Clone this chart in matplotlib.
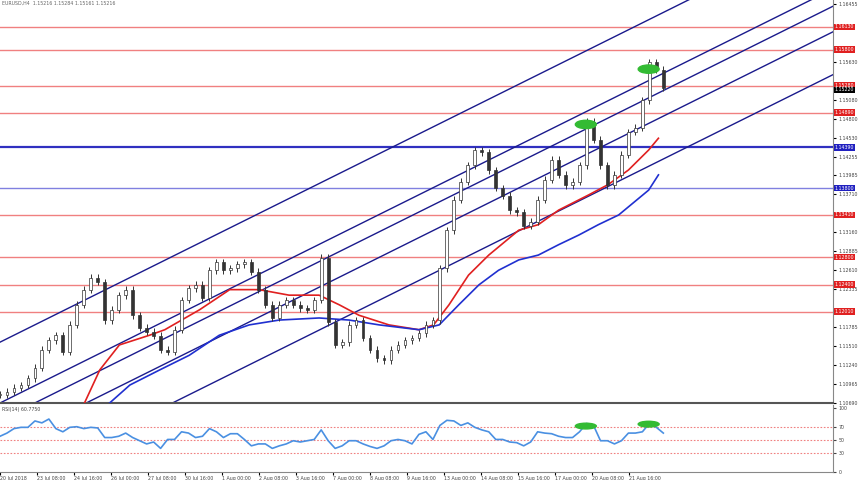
import numpy as np
import matplotlib
matplotlib.use("Agg")
import matplotlib.pyplot as plt
from matplotlib.patches import Ellipse

# closing prices, one per bar
closes = [1.1081, 1.1085, 1.1091, 1.1095, 1.1105, 1.1120, 1.1146, 1.1160, 1.1167, 1.1143,
          1.1182, 1.1211, 1.1233, 1.1250, 1.1244, 1.1189, 1.1204, 1.1225, 1.1233, 1.1196,
          1.1178, 1.1172, 1.1166, 1.1146, 1.1143, 1.1175, 1.1218, 1.1235, 1.1240, 1.1221,
          1.1261, 1.1273, 1.1261, 1.1264, 1.1270, 1.1273, 1.1259, 1.1233, 1.1211, 1.1192,
          1.1211, 1.1218, 1.1211, 1.1206, 1.1204, 1.1218, 1.1279, 1.1186, 1.1153, 1.1157,
          1.1182, 1.1189, 1.1163, 1.1146, 1.1134, 1.1131, 1.1146, 1.1153, 1.1160, 1.1163,
          1.1170, 1.1182, 1.1189, 1.1264, 1.1319, 1.1363, 1.1389, 1.1413, 1.1435, 1.1432,
          1.1406, 1.1380, 1.1369, 1.1348, 1.1345, 1.1325, 1.1331, 1.1363, 1.1392, 1.1421,
          1.1399, 1.1384, 1.1389, 1.1413, 1.1476, 1.1450, 1.1413, 1.1384, 1.1399, 1.1428,
          1.1461, 1.1467, 1.1507, 1.1562, 1.1551, 1.1525]

rsi = [56, 61, 68, 70, 70, 80, 77, 83, 68, 63, 70, 71, 68, 70, 69, 54, 54, 56, 61, 54,
       49, 44, 47, 37, 51, 51, 63, 61, 54, 56, 68, 63, 54, 60, 60, 51, 41, 44, 44, 37,
       41, 44, 49, 47, 49, 51, 66, 49, 37, 41, 49, 49, 44, 40, 37, 41, 49, 51,
       49, 44, 59, 63, 51, 73, 81, 80, 73, 77, 70, 66, 63, 51, 51, 47, 46, 41, 47, 63,
       61, 60, 56, 54, 54, 63, 76, 73, 49, 49, 44, 49, 61, 61, 63, 76, 70, 61]

# moving averages: (bar, price)
ma_red_bar = [12.1, 14.3, 17.1, 21.4, 23.6, 28.6, 32.9, 37.1, 41.4, 45.7, 48.6, 51.4, 55.7,
              60.0, 62.1, 64.3, 67.1, 70.0, 74.3, 77.1, 80.0, 84.3, 87.1, 90.0, 92.9, 94.3]
ma_red = [1.1069, 1.1117, 1.1153, 1.1167, 1.1175, 1.1204, 1.1233, 1.1233, 1.1225, 1.1225,
          1.1211, 1.1196, 1.1182, 1.1175, 1.1182, 1.1211, 1.1254, 1.1283, 1.1319, 1.1327,
          1.1348, 1.1370, 1.1385, 1.1406, 1.1435, 1.1452]
ma_blue_bar = [15.7, 18.6, 22.9, 27.1, 31.4, 35.7, 40.0, 45.7, 50.0, 54.3, 60.0, 62.9, 65.7,
               68.6, 71.4, 74.3, 77.1, 80.0, 82.9, 85.7, 88.6, 92.9, 94.3]
ma_blue = [1.1069, 1.1095, 1.1117, 1.1138, 1.1167, 1.1182, 1.1189, 1.1192, 1.1189, 1.1182,
           1.1175, 1.1182, 1.1211, 1.1240, 1.1261, 1.1276, 1.1283, 1.1298, 1.1312, 1.1327,
           1.1341, 1.1377, 1.1399]

# channel lines: price at bar 0 and at bar 119.3
chan_start = [1.1157, 1.1069, 1.1044, 1.1007, 1.0945]
chan_end = [1.1756, 1.1668, 1.1643, 1.1606, 1.1544]

red_levels = [1.1613, 1.1580, 1.1528, 1.1489, 1.1341, 1.1280, 1.1240, 1.1201]
blue_levels = [1.1439, 1.1380]
last_price = 1.1522

price_ticks = [1.16455, 1.15630, 1.15080, 1.14800, 1.14530, 1.14255, 1.13985, 1.13710,
               1.13160, 1.12885, 1.12610, 1.12335, 1.11785, 1.11510, 1.11240, 1.10965, 1.10690]
date_labels = ["20 Jul 2018", "23 Jul 08:00", "24 Jul 16:00", "26 Jul 00:00", "27 Jul 08:00",
               "30 Jul 16:00", "1 Aug 00:00", "2 Aug 08:00", "3 Aug 16:00", "7 Aug 00:00",
               "8 Aug 08:00", "9 Aug 16:00", "13 Aug 00:00", "14 Aug 08:00", "15 Aug 16:00",
               "17 Aug 00:00", "20 Aug 08:00", "21 Aug 16:00"]

highlights = [(83.9, 1.1472), (92.9, 1.1552)]
rsi_highlights = [(83.9, 72), (92.9, 75)]

XMAX = 119.3
YMIN, YMAX = 1.1069, 1.1652
FS = 3.4

fig = plt.figure(figsize=(8.6, 4.8), dpi=100)
ax = fig.add_axes([0, 77 / 480, 833 / 860, 403 / 480])
ax2 = fig.add_axes([0, 8 / 480, 833 / 860, 67 / 480])

x = np.arange(len(closes))
for lv in red_levels:
    ax.axhline(lv, color="#f08080", lw=1, zorder=1)
ax.axhline(blue_levels[0], color="#3030c0", lw=1.6, zorder=1)
ax.axhline(blue_levels[1], color="#8080e0", lw=1, zorder=1)

for s, e in zip(chan_start, chan_end):
    ax.plot([0, XMAX], [s, e], color="#1a1a8c", lw=1, zorder=2)

ax.plot(ma_red_bar, ma_red, color="#e02020", lw=1.2, zorder=3)
ax.plot(ma_blue_bar, ma_blue, color="#2030d0", lw=1.2, zorder=3)

opens = [closes[0]] + closes[:-1]
for i, (o, c) in enumerate(zip(opens, closes)):
    lo, hi = min(o, c), max(o, c)
    ax.vlines(i, lo - 0.0005, hi + 0.0005, color="#333333", lw=0.7, zorder=4)
    ax.bar(i, max(hi - lo, 0.00005), bottom=lo, width=0.4,
           color="white" if c >= o else "#333333", edgecolor="#333333", lw=0.5, zorder=5)

for bx, by in highlights:
    ax.add_patch(Ellipse((bx, by), 3.0, 0.0012, color="#33bb33", zorder=6))

ax.set_xlim(0, XMAX)
ax.set_ylim(YMIN, YMAX)
ax.set_xticks([])
ax.yaxis.tick_right()
ax.set_yticks(price_ticks)
ax.set_yticklabels([f"{t:.5f}" for t in price_ticks], fontsize=FS, color="#444444")
ax.tick_params(axis="y", length=2, pad=2)
for lv in red_levels:
    ax.text(1.002, lv, f"{lv:.5f}", transform=ax.get_yaxis_transform(), fontsize=FS,
            color="white", va="center", bbox=dict(facecolor="#e02020", edgecolor="none", pad=0.6))
for lv in blue_levels:
    ax.text(1.002, lv, f"{lv:.5f}", transform=ax.get_yaxis_transform(), fontsize=FS,
            color="white", va="center", bbox=dict(facecolor="#2020c0", edgecolor="none", pad=0.6))
ax.text(1.002, last_price, f"{last_price:.5f}", transform=ax.get_yaxis_transform(), fontsize=FS,
        color="white", va="center", bbox=dict(facecolor="black", edgecolor="none", pad=0.6))
ax.text(0.003, 0.997, "EURUSD,H4  1.15216 1.15284 1.15161 1.15216", transform=ax.transAxes,
        fontsize=FS, color="#666666", va="top")
for sp in ["top", "left"]:
    ax.spines[sp].set_visible(False)
ax.spines["bottom"].set_color("#555555")
ax.spines["bottom"].set_linewidth(1.5)
ax.spines["right"].set_color("#888888")

# RSI panel
for lv in [70, 50, 30]:
    ax2.axhline(lv, color="#f08080", lw=0.8, ls=(0, (1.5, 1.5)))
ax2.plot(x, rsi, color="#4a90e2", lw=1.2)
for bx, by in rsi_highlights:
    ax2.add_patch(Ellipse((bx, by), 3.0, 9, color="#33bb33", zorder=6))
ax2.set_xlim(0, XMAX)
ax2.set_ylim(0, 105)
ax2.yaxis.tick_right()
ax2.set_yticks([0, 30, 50, 70, 100])
ax2.tick_params(axis="y", labelsize=FS, length=2, pad=2, colors="#444444")
ax2.set_xticks(np.arange(len(date_labels)) * 5.3)
ax2.set_xticklabels(date_labels, fontsize=FS, color="#444444", ha="left")
ax2.tick_params(axis="x", length=2, pad=1)
ax2.text(0.003, 0.97, "RSI(14) 60.7750", transform=ax2.transAxes, fontsize=FS,
         color="#444444", va="top")
for sp in ["top", "left"]:
    ax2.spines[sp].set_visible(False)
ax2.spines["right"].set_color("#888888")
ax2.spines["bottom"].set_color("#888888")

fig.savefig("out.png", dpi=100)
